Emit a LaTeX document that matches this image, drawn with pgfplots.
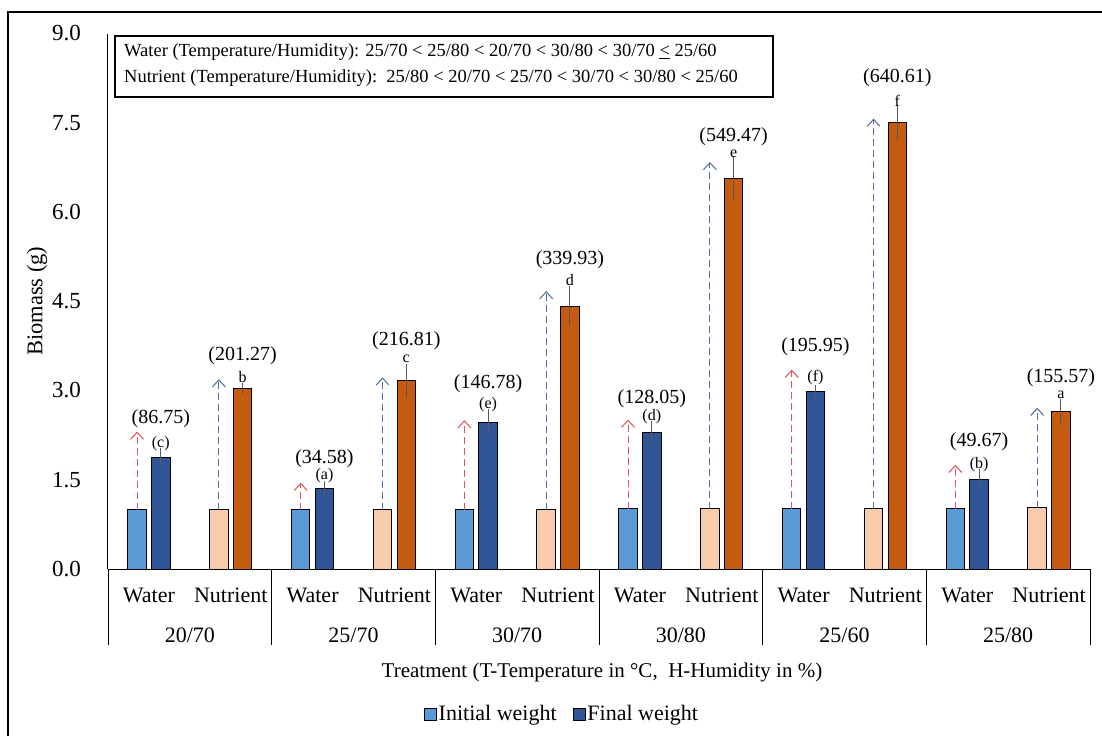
\documentclass[border=0pt]{standalone}
\usepackage{fontspec}
\setmainfont{Liberation Serif}
\usepackage{pgfplots}
\pgfplotsset{compat=1.18}
\usetikzlibrary{arrows.meta}
\definecolor{wInit}{HTML}{5B9BD5}
\definecolor{wFin}{HTML}{2F5597}
\definecolor{nInit}{HTML}{F8CBAD}
\definecolor{nFin}{HTML}{C55A11}
\definecolor{arrRed}{HTML}{E0505A}
\definecolor{arrBlue}{HTML}{4D6E9E}
\definecolor{errGray}{HTML}{595959}
\begin{document}
\begin{tikzpicture}[font=\fontsize{20}{24}\selectfont]
\useasboundingbox (-108pt,-167pt) rectangle (994pt,569pt);
\draw[line width=1.2pt] (-100pt,-167pt) -- (-100pt,557pt) -- (994pt,557pt);
\begin{axis}[
  at={(0pt,0pt)}, anchor=south west,
  width=982pt, height=535.5pt, scale only axis,
  xmin=-0.5, xmax=11.5, ymin=0, ymax=9,
  axis lines*=left,
  axis line style={line width=1pt, black},
  major tick length=0pt,
  ytick={0,1.5,3,4.5,6,7.5,9},
  yticklabel style={/pgf/number format/fixed, /pgf/number format/fixed zerofill,
    /pgf/number format/precision=1, /pgf/number format/assume math mode=true,
    anchor=east, inner sep=0pt, xshift=-27pt, font=\fontsize{23}{26}\selectfont},
  xtick={0,...,11},
  xticklabels={Water,Nutrient,Water,Nutrient,Water,Nutrient,Water,Nutrient,Water,Nutrient,Water,Nutrient},
  xticklabel style={anchor=center, yshift=-26pt, font=\fontsize{22}{26}\selectfont},
  xlabel={Treatment (T-Temperature in °C,\ \ H-Humidity in \%)},
  xlabel style={at={(axis description cs:0.503,-0.1923)}, anchor=center, font=\fontsize{21}{25}\selectfont},
  ylabel={Biomass (g)},
  ylabel style={at={(axis description cs:-0.0723,0.5)}, anchor=center, font=\fontsize{22.5}{26}\selectfont},
  legend columns=2,
  legend style={at={(axis description cs:0.4623,-0.2708)}, anchor=center, draw=none, fill=none,
    font=\fontsize{22}{26}\selectfont,
    /tikz/every even column/.append style={column sep=14pt}, inner sep=0pt},
  clip=false,
]
% Water initial
\addplot[ybar, bar width=0.226, bar shift=0pt, fill=wInit, draw=black, line width=1pt, forget plot]
  coordinates {(-0.145,1.00) (1.855,1.00) (3.855,1.00) (5.855,1.01) (7.855,1.01) (9.855,1.01)};
% Water final
\addplot[ybar, bar width=0.226, bar shift=0pt, fill=wFin, draw=black, line width=1pt, forget plot,
  error bars/.cd, y dir=both, y explicit,
  error bar style={errGray, line width=1pt},
  error mark options={errGray, line width=1pt, mark size=5pt}]
  coordinates {(0.145,1.87) +- (0,0.075) (2.145,1.35) +- (0,0.05) (4.145,2.47) +- (0,0.13)
               (6.145,2.30) +- (0,0.10) (8.145,2.99) +- (0,0.02) (10.145,1.51) +- (0,0.08)};
% Nutrient initial
\addplot[ybar, bar width=0.226, bar shift=0pt, fill=nInit, draw=black, line width=1pt, forget plot]
  coordinates {(0.855,1.00) (2.855,1.00) (4.855,1.00) (6.855,1.01) (8.855,1.01) (10.855,1.03)};
% Nutrient final
\addplot[ybar, bar width=0.226, bar shift=0pt, fill=nFin, draw=black, line width=1pt, forget plot,
  error bars/.cd, y dir=both, y explicit,
  error bar style={errGray, line width=1pt},
  error mark options={errGray, line width=1pt, mark size=5pt}]
  coordinates {(1.145,3.03) +- (0,0.01) (3.145,3.16) +- (0,0.20) (5.145,4.42) +- (0,0.25)
               (7.145,6.56) +- (0,0.28) (9.145,7.50) +- (0,0.21) (11.145,2.64) +- (0,0.13)};
% arrows
\pgfplotsset{warr/.style={arrRed, dash pattern=on 7pt off 4pt, line width=1pt, -{Straight Barb[length=7pt,width=13pt]}, forget plot},
             narr/.style={arrBlue, dash pattern=on 7pt off 4pt, line width=1pt, -{Straight Barb[length=7pt,width=13pt]}, forget plot}}
\addplot[warr] coordinates {(-0.145,1.00) (-0.145,2.31)};
\addplot[warr] coordinates {(1.855,1.00) (1.855,1.45)};
\addplot[warr] coordinates {(3.855,1.00) (3.855,2.50)};
\addplot[warr] coordinates {(5.855,1.01) (5.855,2.51)};
\addplot[warr] coordinates {(7.855,1.01) (7.855,3.35)};
\addplot[warr] coordinates {(9.855,1.01) (9.855,1.75)};
\addplot[narr] coordinates {(0.855,1.00) (0.855,3.19)};
\addplot[narr] coordinates {(2.855,1.00) (2.855,3.22)};
\addplot[narr] coordinates {(4.855,1.00) (4.855,4.67)};
\addplot[narr] coordinates {(6.855,1.01) (6.855,6.84)};
\addplot[narr] coordinates {(8.855,1.01) (8.855,7.57)};
\addplot[narr] coordinates {(10.855,1.03) (10.855,2.71)};
% legend
\addlegendimage{legend image code/.code={\draw[fill=wInit, draw=black, line width=0.8pt] (0pt,-6pt) rectangle (12pt,6pt);}}
\addlegendentry{Initial weight}
\addlegendimage{legend image code/.code={\draw[fill=wFin, draw=black, line width=0.8pt] (0pt,-6pt) rectangle (12pt,6pt);}}
\addlegendentry{Final weight}
% percentage labels
\begin{scope}[every node/.style={inner sep=1pt}]
\node at (axis cs:0.145,2.53) {(86.75)};
\node at (axis cs:2.145,1.86) {(34.58)};
\node at (axis cs:4.145,3.12) {(146.78)};
\node at (axis cs:6.145,2.87) {(128.05)};
\node at (axis cs:8.145,3.73) {(195.95)};
\node at (axis cs:10.145,2.14) {(49.67)};
\node at (axis cs:1.145,3.59) {(201.27)};
\node at (axis cs:3.145,3.84) {(216.81)};
\node at (axis cs:5.145,5.20) {(339.93)};
\node at (axis cs:7.145,7.27) {(549.47)};
\node at (axis cs:9.145,8.25) {(640.61)};
\node at (axis cs:11.145,3.21) {(155.57)};
\end{scope}
% letters
\begin{scope}[every node/.style={inner sep=0.5pt}, font=\fontsize{16}{18}\selectfont]
\node at (axis cs:0.145,2.11) {(c)};
\node at (axis cs:2.145,1.57) {(a)};
\node at (axis cs:4.145,2.76) {(e)};
\node at (axis cs:6.145,2.56) {(d)};
\node at (axis cs:8.145,3.21) {(f)};
\node at (axis cs:10.145,1.76) {(b)};
\node at (axis cs:1.145,3.22) {b};
\node at (axis cs:3.145,3.54) {c};
\node at (axis cs:5.145,4.85) {d};
\node at (axis cs:7.145,6.97) {e};
\node at (axis cs:9.145,7.87) {f};
\node at (axis cs:11.145,2.92) {a};
\end{scope}
% group separators and labels
\draw[line width=0.8pt] (axis cs:-0.5,0) -- ++(0pt,-76pt);
\draw[line width=0.8pt] (axis cs:1.5,0) -- ++(0pt,-76pt);
\draw[line width=0.8pt] (axis cs:3.5,0) -- ++(0pt,-76pt);
\draw[line width=0.8pt] (axis cs:5.5,0) -- ++(0pt,-76pt);
\draw[line width=0.8pt] (axis cs:7.5,0) -- ++(0pt,-76pt);
\draw[line width=0.8pt] (axis cs:9.5,0) -- ++(0pt,-76pt);
\draw[line width=0.8pt] (axis cs:11.5,0) -- ++(0pt,-76pt);
\begin{scope}[font=\fontsize{22}{26}\selectfont]
\node at ([yshift=-66pt]axis cs:0.5,0) {20/70};
\node at ([yshift=-66pt]axis cs:2.5,0) {25/70};
\node at ([yshift=-66pt]axis cs:4.5,0) {30/70};
\node at ([yshift=-66pt]axis cs:6.5,0) {30/80};
\node at ([yshift=-66pt]axis cs:8.5,0) {25/60};
\node at ([yshift=-66pt]axis cs:10.5,0) {25/80};
\end{scope}
\end{axis}
% header box
\draw[line width=1.5pt] (7pt,472pt) rectangle (665pt,533pt);
\node[anchor=west, inner sep=0pt, font=\fontsize{18.5}{22}\selectfont] at (16pt,517pt)
  {Water (Temperature/Humidity): 25/70 < 25/80 < 20/70 < 30/80 < 30/70 \underline{<} 25/60};
\node[anchor=west, inner sep=0pt, font=\fontsize{18.5}{22}\selectfont] at (16pt,491pt)
  {Nutrient (Temperature/Humidity):\ \ 25/80 < 20/70 < 25/70 < 30/70 < 30/80 < 25/60};
\end{tikzpicture}
\end{document}
